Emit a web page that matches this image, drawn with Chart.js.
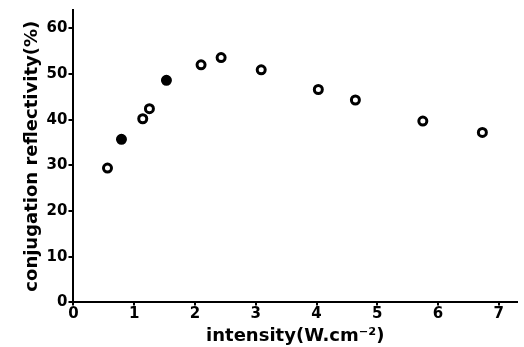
<!DOCTYPE html>
<html>
<head>
<meta charset="utf-8">
<script src="https://cdn.jsdelivr.net/npm/chart.js@4"></script>
<style>
    html, body { margin: 0; padding: 0; background: #fff; }
    #wrap { width: 524px; height: 347px; }
</style>
</head>
<body>
<div id="wrap"><canvas id="chart"></canvas></div>
<script>
// 数据
const intensity = [0.56, 0.79, 1.14, 1.25, 1.53, 2.10, 2.43, 3.09, 4.03, 4.64, 5.75, 6.73];
const reflectivity = [29.4, 35.7, 40.2, 42.4, 48.6, 52.0, 53.6, 50.9, 46.6, 44.3, 39.7, 37.2];
const xTicks = [0, 1, 2, 3, 4, 5, 6, 7];
const yTicks = [0, 10, 20, 30, 40, 50, 60];

const points = intensity.map((x, i) => ({ x: x, y: reflectivity[i] }));
// 第2、5个点在原图里是实心的
const fills = points.map((p, i) => (i === 1 || i === 4) ? '#000' : '#fff');
const tickFont = { family: 'DejaVu Sans', size: 15, weight: 'bold' };
const titleFont = { family: 'DejaVu Sans', size: 18, weight: 'bold' };

new Chart(document.getElementById('chart'), {
    type: 'scatter',
    data: {
        datasets: [{
            data: points,
            pointStyle: 'circle',
            pointRadius: 4,
            pointBorderWidth: 3,
            borderColor: '#000',
            backgroundColor: fills
        }]
    },
    options: {
        responsive: true,
        maintainAspectRatio: false,
        animation: false,
        layout: { padding: { top: 10, right: 0, left: 22, bottom: 0 } },
        plugins: {
            legend: { display: false },
            tooltip: { enabled: false }
        },
        scales: {
            x: {
                type: 'linear',
                min: 0,
                max: 7.3,
                afterBuildTicks: axis => { axis.ticks = xTicks.map(v => ({ value: v })); },
                ticks: { color: '#000', font: tickFont, padding: 0, maxRotation: 0 },
                grid: { drawOnChartArea: false, drawTicks: true, tickLength: 3, color: '#000', lineWidth: 2 },
                border: { color: '#000', width: 2 },
                title: {
                    display: true,
                    text: 'intensity(W.cm⁻²)',
                    color: '#000',
                    font: titleFont,
                    padding: { top: 2, bottom: 0 }
                }
            },
            y: {
                min: 0,
                max: 64,
                afterBuildTicks: axis => { axis.ticks = yTicks.map(v => ({ value: v })); },
                ticks: { color: '#000', font: tickFont, padding: 1 },
                grid: { drawOnChartArea: false, drawTicks: true, tickLength: 5, color: '#000', lineWidth: 2 },
                border: { color: '#000', width: 2 },
                title: {
                    display: true,
                    text: 'conjugation reflectivity(%)',
                    color: '#000',
                    font: titleFont,
                    padding: { top: 0, bottom: 2 }
                }
            }
        }
    }
});
</script>
</body>
</html>
